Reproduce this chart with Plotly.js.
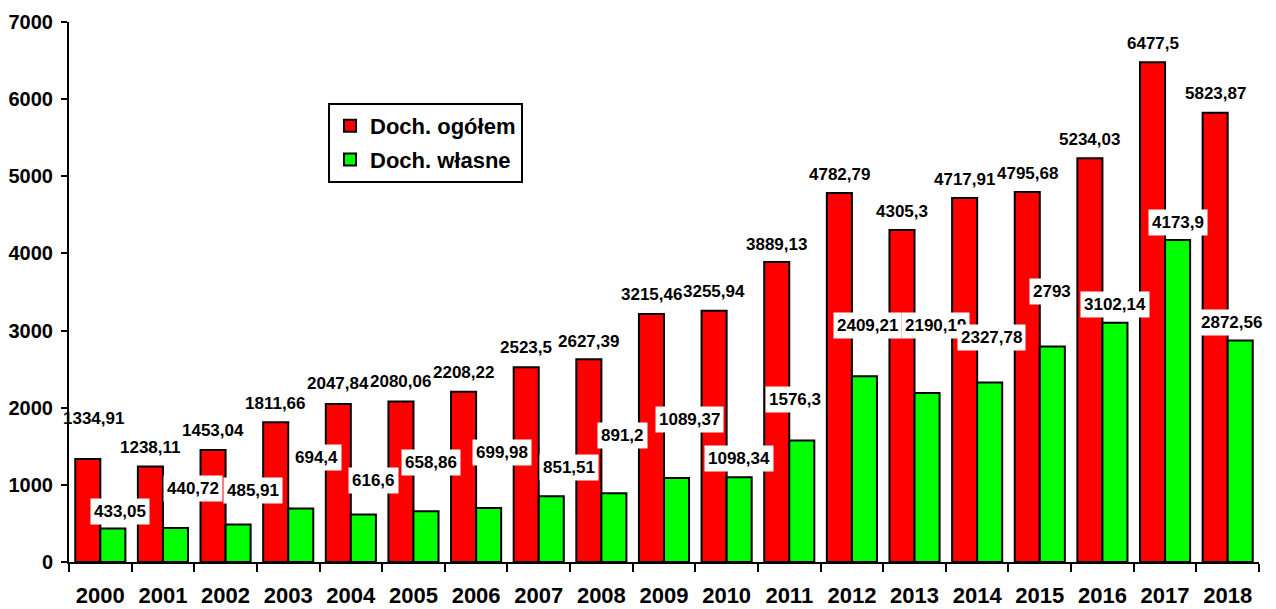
<!DOCTYPE html>
<html><head><meta charset="utf-8">
<script src="https://cdn.plot.ly/plotly-3.0.1.min.js"></script>
<style>html,body{margin:0;padding:0;background:#fff;}#chart{width:1276px;height:609px;}</style>
</head><body><div id="chart"></div>
<script>
const years = ['2000','2001','2002','2003','2004','2005','2006','2007','2008','2009','2010','2011','2012','2013','2014','2015','2016','2017','2018'];
const dochOgolem = [1334.91,1238.11,1453.04,1811.66,2047.84,2080.06,2208.22,2523.5,2627.39,3215.46,3255.94,3889.13,4782.79,4305.3,4717.91,4795.68,5234.03,6477.5,5823.87];
const dochWlasne = [433.05,440.72,485.91,694.4,616.6,658.86,699.98,851.51,891.2,1089.37,1098.34,1576.3,2409.21,2190.19,2327.78,2793,3102.14,4173.9,2872.56];
const seriesNames = ['Doch. ogółem','Doch. własne'];
const yTicks = [0,1000,2000,3000,4000,5000,6000,7000];

// label placement tweaks (pixels): lift above bar top, horizontal nudge
const redLift   = [41,19,19,19,21,20,19,20,18,19,19,17,19,18,19,19,19,19,19];
const redNudge  = [6,0,0,0,0,0,0,0,0,0,0,0,0,0,0,0,0,0,0];
const greenLift = [17,40,34,51,34,49,56,29,58,58,19,41,51,68,45,55,18,18,18];
const greenNudge= [7,18,15,16,10,5,13,18,9,13,0,-7,3,8,2,0,0,0,-9];

const M = {l:69, r:17, t:22, b:47};
const W = 1276, H = 609;
const catW = (W - M.l - M.r) / years.length;
const bargap = 0.2;
const half = catW * (1 - bargap) / 4;

const FONT = 'Arial, "Liberation Sans", sans-serif';
const fmt = v => String(v).replace('.', ',');

const annotations = [];
years.forEach((yr, i) => {
  annotations.push({
    x: i, y: dochOgolem[i], xref: 'x', yref: 'y', showarrow: false,
    text: fmt(dochOgolem[i]), xshift: -half + redNudge[i], yshift: redLift[i],
    yanchor: 'middle', xanchor: 'center',
    font: {family: FONT, size: 17, color: '#000', weight: 700}
  });
});
years.forEach((yr, i) => {
  annotations.push({
    x: i, y: dochWlasne[i], xref: 'x', yref: 'y', showarrow: false,
    text: fmt(dochWlasne[i]), xshift: half + greenNudge[i], yshift: greenLift[i],
    yanchor: 'middle', xanchor: 'center', bgcolor: '#ffffff', borderpad: 3,
    font: {family: FONT, size: 17, color: '#000', weight: 700}
  });
});

const traces = [
  {type: 'bar', x: years, y: dochOgolem, name: seriesNames[0], legendgroup: 'a',
   marker: {color: '#ff0000', line: {color: '#000', width: 2}}, hoverinfo: 'skip'},
  {type: 'bar', x: years, y: dochWlasne, name: seriesNames[1], legendgroup: 'b',
   marker: {color: '#00ff00', line: {color: '#000', width: 2}}, hoverinfo: 'skip'}
];

const layout = {
  width: W, height: H, margin: M,
  paper_bgcolor: '#fff', plot_bgcolor: '#fff',
  barmode: 'group', bargap: bargap, bargroupgap: 0,
  font: {family: FONT, color: '#000'},
  showlegend: true,
  legend: {x: (328 - M.l) / (W - M.l - M.r), y: (H - M.b - 103) / (H - M.t - M.b),
    xanchor: 'left', yanchor: 'top', bgcolor: '#fff', bordercolor: '#000', borderwidth: 2,
    font: {family: FONT, size: 22, color: '#000', weight: 700},
    traceorder: 'grouped', tracegroupgap: 2, itemwidth: 30},
  xaxis: {type: 'category', categoryorder: 'array', categoryarray: years,
    range: [-0.5, years.length - 0.5], autorange: false, tickangle: 0,
    showline: true, linecolor: '#000', linewidth: 2, showgrid: false, zeroline: false,
    ticks: 'outside', tickson: 'boundaries', ticklen: 8, tickwidth: 2, tickcolor: '#000',
    tickfont: {family: FONT, size: 22, color: '#000', weight: 700}, ticklabelstandoff: 13},
  yaxis: {range: [0, 7000], autorange: false, tickvals: yTicks, ticktext: yTicks.map(String),
    showline: true, linecolor: '#000', linewidth: 2, showgrid: false, zeroline: false,
    ticks: 'outside', ticklen: 6, tickwidth: 2, tickcolor: '#000',
    tickfont: {family: FONT, size: 20, color: '#000', weight: 700}, ticklabelstandoff: 4},
  annotations: annotations
};

Plotly.newPlot('chart', traces, layout, {displayModeBar: false, staticPlot: true});
</script>
</body></html>
